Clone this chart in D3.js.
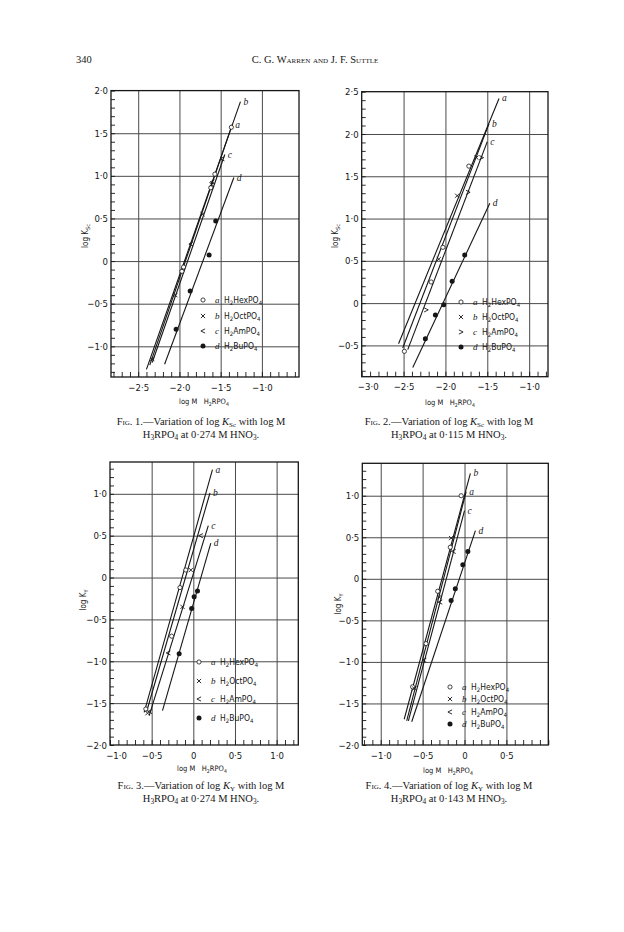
<!DOCTYPE html>
<html>
<head>
<meta charset="utf-8">
<script src="https://cdn.jsdelivr.net/npm/d3@7"></script>
<style>
  body { margin: 0; background: #fff; }
  svg { display: block; }
</style>
</head>
<body>
<div id="page"></div>
<script>
// Shared series info
const seriesKeys = ["a", "b", "c", "d"];
const compounds = ["H_2HexPO_4", "H_2OctPO_4", "H_2AmPO_4", "H_2BuPO_4"];

// Fig. 1 : log K_Sc vs log M H2RPO4, 0.274 M HNO3
const fig1A = [[-1.97, -0.12], [-1.95, -0.07], [-1.62, 0.86], [-1.57, 1.02], [-1.37, 1.57]];
const fig1B = [[-2.33, -1.15], [-2.05, -0.40], [-1.72, 0.55], [-1.61, 0.90]];
const fig1C = [[-1.86, 0.20], [-1.60, 0.93], [-1.48, 1.20]];
const fig1D = [[-2.04, -0.80], [-1.87, -0.35], [-1.64, 0.07], [-1.56, 0.47]];
const fig1Lines = [[-2.36, -1.22, -1.36, 1.60], [-2.40, -1.27, -1.26, 1.87], [-2.33, -1.19, -1.45, 1.25], [-2.18, -1.21, -1.34, 0.98]];
const fig1XTicks = [-2.5, -2.0, -1.5, -1.0];
const fig1YTicks = [2.0, 1.5, 1.0, 0.5, 0, -0.5, -1.0];

// Fig. 2 : log K_Sc vs log M H2RPO4, 0.115 M HNO3
const fig2A = [[-2.49, -0.57], [-2.17, 0.25], [-2.03, 0.66], [-1.72, 1.62]];
const fig2B = [[-2.08, 0.52], [-1.86, 1.27], [-1.63, 1.72]];
const fig2C = [[-2.23, -0.08], [-1.73, 1.31], [-1.57, 1.72]];
const fig2D = [[-2.24, -0.42], [-2.12, -0.14], [-2.02, -0.02], [-1.92, 0.26], [-1.77, 0.57]];
const fig2Lines = [[-2.56, -0.48, -1.36, 2.42], [-2.51, -0.53, -1.48, 2.12], [-2.45, -0.55, -1.50, 1.91], [-2.39, -0.76, -1.47, 1.18]];
const fig2XTicks = [-3.0, -2.5, -2.0, -1.5, -1.0];
const fig2YTicks = [2.5, 2.0, 1.5, 1.0, 0.5, 0, -0.5];

// Fig. 3 : log K_Y vs log M H2RPO4, 0.274 M HNO3
const fig3A = [[-0.57, -1.57], [-0.26, -0.70], [-0.16, -0.12], [-0.09, 0.09]];
const fig3B = [[-0.55, -1.62], [-0.13, -0.35], [-0.03, 0.09]];
const fig3C = [[-0.52, -1.60], [-0.30, -0.90], [0.09, 0.50]];
const fig3D = [[-0.17, -0.91], [-0.02, -0.37], [0.01, -0.23], [0.05, -0.16]];
const fig3Lines = [[-0.59, -1.61, 0.23, 1.29], [-0.56, -1.60, 0.20, 1.01], [-0.53, -1.65, 0.18, 0.62], [-0.37, -1.59, 0.21, 0.41]];
const fig3XTicks = [-1.0, -0.5, 0, 0.5, 1.0];
const fig3YTicks = [1.0, 0.5, 0, -0.5, -1.0, -1.5, -2.0];

// Fig. 4 : log K_Y vs log M H2RPO4, 0.143 M HNO3
const fig4A = [[-0.62, -1.30], [-0.46, -0.78], [-0.32, -0.15], [-0.17, 0.38], [-0.04, 1.00]];
const fig4B = [[-0.60, -1.32], [-0.30, -0.22], [-0.16, 0.49]];
const fig4C = [[-0.48, -0.98], [-0.29, -0.28], [-0.13, 0.33]];
const fig4D = [[-0.16, -0.26], [-0.11, -0.12], [-0.02, 0.17], [0.04, 0.33]];
const fig4Lines = [[-0.69, -1.71, 0.02, 1.05], [-0.72, -1.69, 0.07, 1.27], [-0.67, -1.71, 0.00, 0.82], [-0.63, -1.72, 0.13, 0.58]];
const fig4XTicks = [-1.0, -0.5, 0, 0.5];
const fig4YTicks = [1.0, 0.5, 0, -0.5, -1.0, -1.5, -2.0];

const markersLt = ["circle", "cross", "lt", "dot"];
const markersGt = ["circle", "cross", "gt", "dot"];

// Layout of the four panels (page pixels)
const panels = [
  { n: 1, box: [111, 90.6, 299, 377], xDom: [-2.83, -0.55], yDom: [-1.36, 2.0],
    xTicks: fig1XTicks, yTicks: fig1YTicks, points: [fig1A, fig1B, fig1C, fig1D], lines: fig1Lines,
    markers: markersLt, legend: { x: 203, rows: [300, 316, 331, 346] },
    yTitle: [88, 236, "Sc"], xTitle: [204, 404], capX: 201, capY: 425, conc: "0·274", sym: "Sc" },
  { n: 2, box: [361.7, 91.7, 548, 376.7], xDom: [-3.0, -0.775], yDom: [-0.87, 2.5],
    xTicks: fig2XTicks, yTicks: fig2YTicks, points: [fig2A, fig2B, fig2C, fig2D], lines: fig2Lines,
    markers: markersGt, legend: { x: 461, rows: [302, 317, 332, 347] },
    yTitle: [338, 236, "Sc"], xTitle: [450, 405], capX: 449, capY: 425, conc: "0·115", sym: "Sc" },
  { n: 3, box: [110, 462, 298.3, 745], xDom: [-1.0, 1.26], yDom: [-2.0, 1.38],
    xTicks: fig3XTicks, yTicks: fig3YTicks, points: [fig3A, fig3B, fig3C, fig3D], lines: fig3Lines,
    markers: markersLt, legend: { x: 199, rows: [662, 681, 699, 718] },
    yTitle: [86, 600, "Y"], xTitle: [202, 771], capX: 201, capY: 789, conc: "0·274", sym: "Y" },
  { n: 4, box: [362.3, 463.3, 548.3, 745], xDom: [-1.22, 1.0], yDom: [-2.0, 1.39],
    xTicks: fig4XTicks, yTicks: fig4YTicks, points: [fig4A, fig4B, fig4C, fig4D], lines: fig4Lines,
    markers: markersLt, legend: { x: 450, rows: [687, 699, 712, 724] },
    yTitle: [341, 604, "Y"], xTitle: [448, 773], capX: 449, capY: 789, conc: "0·143", sym: "Y" }
];

const INK = "#161616";
const GRID = "#4a4a4a";
const SANS = "'Liberation Sans Narrow','DejaVu Sans Condensed','Liberation Sans',sans-serif";
const SERIF = "'Liberation Serif','DejaVu Serif',serif";

const svg = d3.select("#page").append("svg")
  .attr("width", 624).attr("height", 932)
  .style("background", "#fff");

// Format tick value like the journal: 1·5, -0·5, 0
function fmt(v) {
  if (v === 0) return "0";
  return (v < 0 ? "−" : "") + Math.abs(v).toFixed(1).replace(".", "·");
}

// Write text with _x or _{xy} subscripts as tspans
function richText(sel, str, fs) {
  const parts = str.split(/(_\{[^}]*\}|_.)/).filter(s => s.length);
  let inSub = false;
  parts.forEach(p => {
    if (p[0] === "_") {
      const t = p[1] === "{" ? p.slice(2, -1) : p.slice(1);
      sel.append("tspan").attr("dy", fs * 0.25).attr("font-size", fs * 0.7).text(t);
      inSub = true;
    } else {
      sel.append("tspan").attr("dy", inSub ? -fs * 0.25 : 0).text(p);
      inSub = false;
    }
  });
  return sel;
}

// Draw one marker of the given kind
function drawMarker(g, kind, x, y) {
  const s = 2.1;
  if (kind === "circle") {
    g.append("circle").attr("cx", x).attr("cy", y).attr("r", 2.1)
      .attr("fill", "#fff").attr("stroke", INK).attr("stroke-width", 0.8);
  } else if (kind === "dot") {
    g.append("circle").attr("cx", x).attr("cy", y).attr("r", 2.5).attr("fill", INK);
  } else {
    let d;
    if (kind === "cross") d = `M${x - s},${y - s}L${x + s},${y + s}M${x - s},${y + s}L${x + s},${y - s}`;
    if (kind === "lt") d = `M${x + s},${y - s}L${x - s},${y}L${x + s},${y + s}`;
    if (kind === "gt") d = `M${x - s},${y - s}L${x + s},${y}L${x - s},${y + s}`;
    g.append("path").attr("d", d).attr("fill", "none").attr("stroke", INK).attr("stroke-width", 0.9);
  }
}

function minorTicks(dom) {
  return d3.range(Math.ceil(dom[0] * 10 - 1e-6), Math.floor(dom[1] * 10 + 1e-6) + 1).map(v => v / 10);
}

function drawPanel(p) {
  const [x0, y0, x1, y1] = p.box;
  const w = x1 - x0, h = y1 - y0;
  const x = d3.scaleLinear().domain(p.xDom).range([0, w]);
  const y = d3.scaleLinear().domain(p.yDom).range([h, 0]);

  const g = svg.append("g").attr("transform", `translate(${x0},${y0})`);

  // Grid lines at every labelled step
  const xGrid = p.xTicks.filter(v => x(v) > 2 && x(v) < w - 2);
  const yGrid = p.yTicks.filter(v => y(v) > 2 && y(v) < h - 2);
  g.append("g").attr("transform", `translate(0,${h})`)
    .call(d3.axisBottom(x).tickValues(xGrid).tickSize(-h).tickFormat(""))
    .call(a => a.select(".domain").remove())
    .selectAll("line").attr("stroke", GRID).attr("stroke-width", 1);
  g.append("g")
    .call(d3.axisLeft(y).tickValues(yGrid).tickSize(-w).tickFormat(""))
    .call(a => a.select(".domain").remove())
    .selectAll("line").attr("stroke", GRID).attr("stroke-width", 1);

  // Minor ticks inside the frame
  g.append("g").attr("transform", `translate(0,${h})`)
    .call(d3.axisBottom(x).tickValues(minorTicks(p.xDom)).tickSize(-5).tickFormat(""))
    .call(a => a.select(".domain").remove())
    .selectAll("line").attr("stroke", INK).attr("stroke-width", 0.9);
  g.append("g")
    .call(d3.axisLeft(y).tickValues(minorTicks(p.yDom)).tickSize(-4).tickFormat(""))
    .call(a => a.select(".domain").remove())
    .selectAll("line").attr("stroke", INK).attr("stroke-width", 0.9);

  // Tick labels
  g.append("g").attr("transform", `translate(0,${h})`)
    .call(d3.axisBottom(x).tickValues(p.xTicks).tickSize(0).tickPadding(7).tickFormat(fmt))
    .call(a => a.select(".domain").remove())
    .selectAll("text")
    .attr("font-family", SANS).attr("font-size", 9.5).attr("fill", INK)
    .attr("dx", d => (x(d) < 3 ? 6 : 0));
  g.append("g")
    .call(d3.axisLeft(y).tickValues(p.yTicks).tickSize(0).tickPadding(3).tickFormat(fmt))
    .call(a => a.select(".domain").remove())
    .selectAll("text")
    .attr("font-family", SANS).attr("font-size", 9.5).attr("fill", INK);

  // Frame
  g.append("rect").attr("width", w).attr("height", h)
    .attr("fill", "none").attr("stroke", INK).attr("stroke-width", 1.3);

  // Fitted lines with their letters
  p.lines.forEach((ln, i) => {
    g.append("line")
      .attr("x1", x(ln[0])).attr("y1", y(ln[1]))
      .attr("x2", x(ln[2])).attr("y2", y(ln[3]))
      .attr("stroke", INK).attr("stroke-width", 1.1);
    g.append("text")
      .attr("x", x(ln[2]) + 3).attr("y", y(ln[3]) + 3)
      .attr("font-family", SERIF).attr("font-style", "italic")
      .attr("font-size", 9.5).attr("fill", INK).text(seriesKeys[i]);
  });

  // Data points
  p.points.forEach((pts, i) => {
    pts.forEach(d => drawMarker(g, p.markers[i], x(d[0]), y(d[1])));
  });

  // Legend (page coordinates)
  const lg = svg.append("g");
  p.legend.rows.forEach((ry, i) => {
    drawMarker(lg, p.markers[i], p.legend.x, ry);
    lg.append("text").attr("x", p.legend.x + 12).attr("y", ry + 3)
      .attr("font-family", SERIF).attr("font-style", "italic")
      .attr("font-size", 9).attr("fill", INK).text(seriesKeys[i]);
    richText(lg.append("text").attr("x", p.legend.x + 21).attr("y", ry + 3)
      .attr("font-family", SANS).attr("font-size", 8.5).attr("fill", INK), compounds[i], 8.5);
  });

  // Axis titles
  const yt = svg.append("text")
    .attr("transform", `translate(${p.yTitle[0]},${p.yTitle[1]}) rotate(-90)`)
    .attr("text-anchor", "middle").attr("font-family", SANS).attr("font-size", 8).attr("fill", INK);
  richText(yt, "log K_{" + p.yTitle[2] + "}", 8);

  const xt = svg.append("text").attr("x", p.xTitle[0]).attr("y", p.xTitle[1])
    .attr("text-anchor", "middle").attr("font-family", SANS).attr("font-size", 7.5).attr("fill", INK)
    .attr("xml:space", "preserve");
  richText(xt, "log M   H_2RPO_4", 7.5);

  // Caption, two centred lines
  const c1 = svg.append("text").attr("x", p.capX).attr("y", p.capY)
    .attr("text-anchor", "middle").attr("font-family", SERIF).attr("font-size", 10.5).attr("fill", INK);
  c1.append("tspan").attr("font-variant", "small-caps").text("Fig. " + p.n + ".");
  c1.append("tspan").text("—Variation of log ");
  c1.append("tspan").attr("font-style", "italic").text("K");
  c1.append("tspan").attr("dy", 1.5).attr("font-size", 7).text(p.sym);
  c1.append("tspan").attr("dy", -1.5).text(" with log M");

  const c2 = svg.append("text").attr("x", p.capX).attr("y", p.capY + 12.5)
    .attr("text-anchor", "middle").attr("font-family", SERIF).attr("font-size", 10.5).attr("fill", INK);
  richText(c2, "H_3RPO_4 at " + p.conc + " M HNO_3.", 10.5);
}

panels.forEach(drawPanel);

// Running head
svg.append("text").attr("x", 76).attr("y", 63)
  .attr("font-family", SERIF).attr("font-size", 10.5).attr("fill", INK).text("340");
svg.append("text").attr("x", 315).attr("y", 63).attr("text-anchor", "middle")
  .attr("font-family", SERIF).attr("font-size", 10.5).attr("fill", INK)
  .attr("font-variant", "small-caps").text("C. G. Warren and J. F. Suttle");
</script>
</body>
</html>
